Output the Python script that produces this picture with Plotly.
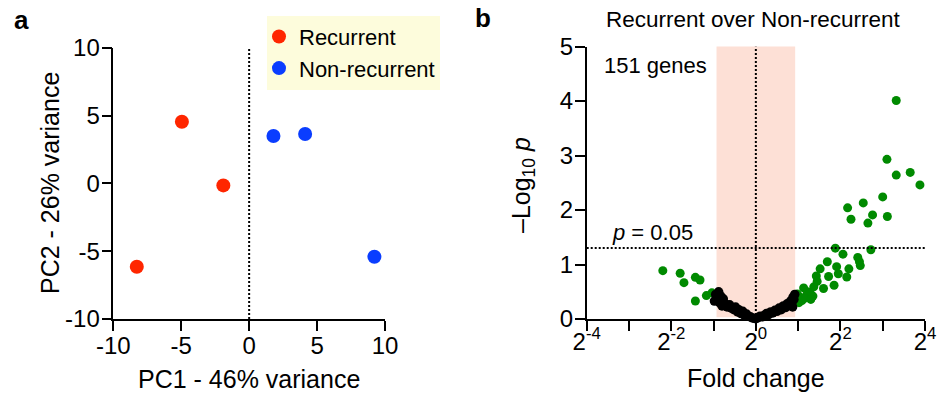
import plotly.graph_objects as go

# ---------------- Panel a: PCA ----------------
rec_pc1 = [-4.95, -1.9, -8.27]
rec_pc2 = [4.54, -0.15, -6.15]
non_pc1 = [1.79, 4.12, 9.22]
non_pc2 = [3.49, 3.64, -5.41]
pca_ticks = [-10, -5, 0, 5, 10]
pca_ticktext = ["-10", "-5", "0", "5", "10"]

# ---------------- Panel b: volcano (log2 fold change, -log10 p) ----------------
black_lfc = [-0.98, -0.95, -0.92, -0.88, -0.86, -0.83, -0.80, -0.77, -0.72, -0.68,
             -0.62, -0.58, -0.52, -0.48, -0.43, -0.40, -0.35, -0.31, -0.27, -0.22,
             -0.18, -0.13, -0.08, -0.03, 0.02, 0.06, 0.10, 0.15, 0.20, 0.25,
             0.30, 0.35, 0.40, 0.45, 0.50, 0.55, 0.60, 0.65, 0.70, 0.74,
             0.78, 0.82, 0.85, 0.88, 0.90, 0.92, 0.87]
black_p = [0.33, 0.45, 0.40, 0.50, 0.30, 0.42, 0.24, 0.37, 0.28, 0.22,
           0.26, 0.20, 0.17, 0.22, 0.13, 0.17, 0.10, 0.14, 0.07, 0.09,
           0.05, 0.04, 0.02, 0.01, 0.01, 0.03, 0.05, 0.04, 0.07, 0.10,
           0.08, 0.13, 0.11, 0.16, 0.14, 0.20, 0.17, 0.24, 0.21, 0.28,
           0.25, 0.33, 0.29, 0.40, 0.36, 0.45, 0.22]
green_lfc = [-2.20, -1.79, -1.70, -1.43, -1.32, -1.43, -1.17, -1.04,
             3.32, 3.10, 3.32, 3.65, 3.88, 3.00, 2.54, 2.17, 2.25, 2.76,
             2.65, 3.11, 1.88, 2.72, 2.06, 2.41, 2.45, 2.47, 1.69, 1.52,
             1.91, 2.20, 1.95, 1.72, 2.15, 1.43, 1.45, 1.85, 1.60, 1.37,
             1.13, 1.28, 1.20, 1.05, 1.02, 1.09, 1.35, 1.22, 0.98, 1.15,
             1.30, 1.00]
green_p = [0.887, 0.84, 0.667, 0.765, 0.716, 0.33, 0.43, 0.48,
           4.01, 2.93, 2.64, 2.69, 2.46, 2.24, 2.13, 2.04, 1.83, 1.91,
           1.76, 1.88, 1.30, 1.27, 1.19, 1.13, 1.05, 0.98, 1.05, 0.92,
           0.96, 0.92, 0.83, 0.78, 0.77, 0.79, 0.69, 0.62, 0.56, 0.59,
           0.57, 0.48, 0.43, 0.40, 0.30, 0.34, 0.42, 0.50, 0.46, 0.38,
           0.36, 0.36]
fc_tickvals = [-4, -3, -2, -1, 0, 1, 2, 3, 4]
fc_ticktext = ["2<sup>-4</sup>", "", "2<sup>-2</sup>", "", "2<sup>0</sup>", "",
               "2<sup>2</sup>", "", "2<sup>4</sup>"]
p_ticks = [0, 1, 2, 3, 4, 5]
p_threshold = 1.301
fc_band = 0.93

FONT = "Liberation Sans, Arial, sans-serif"
RED = "#FF2600"
BLUE = "#0A3DFF"
GREEN = "#008A00"
DOT = "2px,2px"

fig = go.Figure()
fig.add_trace(go.Scatter(x=rec_pc1, y=rec_pc2, mode="markers", name="Recurrent",
                         marker=dict(color=RED, size=14), xaxis="x", yaxis="y",
                         cliponaxis=False))
fig.add_trace(go.Scatter(x=non_pc1, y=non_pc2, mode="markers", name="Non-recurrent",
                         marker=dict(color=BLUE, size=14), xaxis="x", yaxis="y",
                         cliponaxis=False))
fig.add_trace(go.Scatter(x=green_lfc, y=green_p, mode="markers", showlegend=False,
                         marker=dict(color=GREEN, size=9), xaxis="x2", yaxis="y2",
                         cliponaxis=False))
fig.add_trace(go.Scatter(x=black_lfc, y=black_p, mode="markers", showlegend=False,
                         marker=dict(color="black", size=9.5), xaxis="x2", yaxis="y2",
                         cliponaxis=False))

W, H = 937, 396
def px(x):
    return x / W
def py(y):
    return 1 - y / H

axis_common = dict(showline=True, linecolor="black", linewidth=1.5, ticks="outside",
                   ticklen=10, tickwidth=1.5, tickcolor="black", showgrid=False,
                   zeroline=False, automargin=False,
                   tickfont=dict(family=FONT, size=24, color="black"))

fig.update_layout(
    width=W, height=H, margin=dict(l=0, r=0, t=0, b=0, autoexpand=False),
    paper_bgcolor="white", plot_bgcolor="rgba(0,0,0,0)",
    font=dict(family=FONT, color="black"),
    xaxis=dict(domain=[px(113.3), px(385)], range=[-10, 10], tickvals=pca_ticks,
               ticktext=pca_ticktext, anchor="y", ticklabelstandoff=-6, **axis_common),
    yaxis=dict(domain=[py(319), py(47.7)], range=[-10, 10], tickvals=pca_ticks,
               ticktext=pca_ticktext, anchor="x", ticklabelstandoff=-3, **axis_common),
    xaxis2=dict(domain=[px(586.7), px(925)], range=[-4, 4], tickvals=fc_tickvals,
                ticktext=fc_ticktext, anchor="y2", ticklabelstandoff=-10, **axis_common),
    yaxis2=dict(domain=[py(319), py(46.5)], range=[0, 5], tickvals=p_ticks,
                anchor="x2", ticklabelstandoff=-3, **axis_common),
    legend=dict(x=px(267), y=py(15.7), xanchor="left", yanchor="top",
                bgcolor="#FDFCDC", borderwidth=0, indentation=-8,
                font=dict(family=FONT, size=22, color="black"),
                itemwidth=30),
    showlegend=True,
)

shapes = [
    dict(type="line", xref="x", yref="y", x0=0, x1=0, y0=-10, y1=10,
         line=dict(color="black", width=2, dash=DOT)),
    dict(type="rect", xref="x2", yref="y2", x0=-fc_band, x1=fc_band, y0=0.03, y1=5.23,
         fillcolor="#FDE0D6", line=dict(width=0), layer="below"),
    dict(type="line", xref="x2", yref="y2", x0=0, x1=0, y0=0, y1=5,
         line=dict(color="black", width=2, dash=DOT)),
    dict(type="line", xref="x2", yref="y2", x0=-4, x1=4, y0=p_threshold, y1=p_threshold,
         line=dict(color="black", width=2, dash=DOT)),
]
fig.update_layout(shapes=shapes)

def ann(text, x, y, size, xanchor="center", yanchor="middle", angle=0, **kw):
    return dict(text=text, x=px(x), y=py(y), xref="paper", yref="paper",
                xanchor=xanchor, yanchor=yanchor, showarrow=False, textangle=angle,
                font=dict(family=FONT, size=size, color="black"), **kw)

annotations = [
    ann("<b>a</b>", 21, 20, 26),
    ann("<b>b</b>", 483, 18, 26),
    ann("PC1 - 46% variance", 249, 379, 25),
    ann("PC2 - 26% variance", 50, 183, 25, angle=-90),
    ann("Fold change", 755.7, 378, 25),
    ann("–Log<sub>10</sub> <i>p</i>", 523, 185, 25, angle=-90),
    ann("Recurrent over Non-recurrent", 753, 20, 22.5),
    ann("151 genes", 602, 65, 22, xanchor="left"),
    ann("<i>p</i> = 0.05", 610, 232, 22, xanchor="left"),
]
fig.update_layout(annotations=annotations)

fig.write_html("out.html", config={"displayModeBar": False},
               post_script="document.body.style.margin='0';document.body.style.padding='0';")
